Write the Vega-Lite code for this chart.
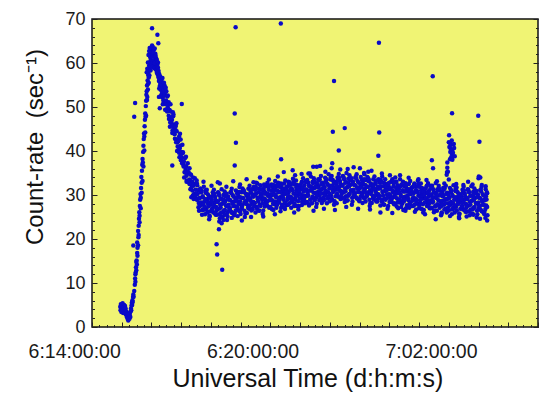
{
"$schema": "https://vega.github.io/schema/vega-lite/v6.json",
"width": 446, "height": 308,
"autosize": "none",
"padding": {"left": 92, "top": 19, "right": 2, "bottom": 69},
"background": "white",
"config": {
 "view": {"stroke": "#111111", "strokeWidth": 1.5, "fill": "#F0F474"},
 "axis": {"grid": false, "labelFont": "Liberation Sans", "titleFont": "Liberation Sans", "labelColor": "#1a1a1a", "titleColor": "#111111", "titleFontWeight": "normal", "tickColor": "#222222", "tickWidth": 1, "tickOpacity": 1, "labelOverlap": false, "labelFlush": false, "labelBound": false}
},
"resolve": {"axis": {"x": "independent", "y": "independent"}},
"data": {"values": [
{"t":1.55,"c":4.6},{"t":1.56,"c":3.8},{"t":1.57,"c":5.2},{"t":1.58,"c":4.1},{"t":1.59,"c":3.4},{"t":1.60,"c":4.9},{"t":1.61,"c":4.3},{"t":1.62,"c":3.6},{"t":1.63,"c":5.4},{"t":1.64,"c":4.0},{"t":1.65,"c":3.2},{"t":1.66,"c":4.7},{"t":1.67,"c":3.9},{"t":1.68,"c":5.0},{"t":1.69,"c":4.4},{"t":1.70,"c":3.3},{"t":1.71,"c":4.8},{"t":1.72,"c":3.7},{"t":1.73,"c":4.2},{"t":1.74,"c":2.9},{"t":1.75,"c":3.5},{"t":1.76,"c":2.6},{"t":1.77,"c":3.1},{"t":1.78,"c":2.2},{"t":1.79,"c":2.8},{"t":1.80,"c":1.8},{"t":1.81,"c":2.4},{"t":1.82,"c":1.5},{"t":1.83,"c":2.1},{"t":1.84,"c":3.0},{"t":1.85,"c":2.5},{"t":1.86,"c":1.9},{"t":1.87,"c":2.7},{"t":1.88,"c":3.3},{"t":1.89,"c":2.3},{"t":1.90,"c":3.6},{"t":1.91,"c":4.2},{"t":1.92,"c":3.8},{"t":1.93,"c":4.9},{"t":1.94,"c":5.5},{"t":1.95,"c":5.0},{"t":1.96,"c":6.1},{"t":1.97,"c":5.7},{"t":1.98,"c":6.8},{"t":1.99,"c":7.4},{"t":2.00,"c":6.9},
{"t":2.02,"c":8.2},{"t":2.04,"c":9.6},{"t":2.05,"c":11.0},{"t":2.06,"c":10.3},{"t":2.07,"c":12.4},{"t":2.08,"c":13.6},{"t":2.09,"c":12.9},{"t":2.10,"c":15.1},{"t":2.11,"c":14.2},{"t":2.12,"c":16.8},{"t":2.13,"c":18.0},{"t":2.12,"c":19.2},{"t":2.15,"c":18.6},{"t":2.16,"c":20.4},{"t":2.15,"c":21.8},{"t":2.17,"c":23.0},{"t":2.18,"c":24.6},{"t":2.19,"c":26.1},{"t":2.20,"c":25.3},{"t":2.21,"c":27.5},{"t":2.22,"c":28.9},{"t":2.23,"c":30.2},{"t":2.24,"c":29.4},{"t":2.25,"c":31.6},{"t":2.27,"c":32.8},{"t":2.26,"c":34.1},{"t":2.28,"c":35.5},{"t":2.29,"c":36.9},{"t":2.30,"c":38.2},{"t":2.31,"c":37.4},{"t":2.32,"c":39.8},{"t":2.33,"c":41.2},{"t":2.34,"c":42.7},{"t":2.35,"c":44.0},{"t":2.36,"c":43.3},{"t":2.37,"c":45.6},{"t":2.38,"c":47.1},{"t":2.39,"c":48.5},{"t":2.40,"c":47.8},{"t":2.41,"c":50.2},{"t":2.42,"c":51.4},{"t":2.43,"c":52.8},{"t":2.44,"c":53.6},{"t":2.45,"c":54.9},{"t":2.46,"c":52.3},{"t":2.47,"c":56.0},{"t":2.48,"c":55.2},{"t":2.49,"c":57.3},{"t":2.50,"c":58.1},{"t":2.51,"c":56.7},{"t":2.52,"c":59.4},{"t":2.53,"c":58.6},{"t":2.54,"c":60.2},{"t":2.55,"c":59.0},{"t":2.56,"c":61.3},
{"t":2.06,"c":12.0},{"t":2.09,"c":14.8},{"t":2.13,"c":16.2},{"t":2.17,"c":20.9},{"t":2.20,"c":23.8},{"t":2.24,"c":27.0},{"t":2.27,"c":30.5},{"t":2.30,"c":33.2},{"t":2.33,"c":36.5},{"t":2.36,"c":40.1},{"t":2.39,"c":44.2},{"t":2.42,"c":48.0},{"t":2.45,"c":51.6},{"t":2.48,"c":54.0},{"t":2.51,"c":55.5},
{"t":1.99,"c":18.5},{"t":2.05,"c":50.9},{"t":2.02,"c":47.8},
{"t":2.56,"c":62.0},{"t":2.58,"c":60.8},{"t":2.59,"c":63.1},{"t":2.60,"c":61.5},{"t":2.61,"c":59.7},{"t":2.62,"c":62.6},{"t":2.63,"c":60.3},{"t":2.64,"c":63.7},{"t":2.65,"c":61.9},{"t":2.66,"c":59.2},{"t":2.67,"c":62.9},{"t":2.68,"c":60.6},{"t":2.69,"c":58.8},{"t":2.70,"c":61.4},{"t":2.71,"c":63.3},{"t":2.72,"c":59.9},{"t":2.73,"c":62.1},{"t":2.74,"c":60.2},{"t":2.75,"c":58.5},{"t":2.76,"c":61.0},{"t":2.77,"c":59.3},{"t":2.78,"c":60.7},{"t":2.79,"c":58.1},{"t":2.80,"c":59.6},{"t":2.81,"c":57.4},{"t":2.82,"c":58.9},{"t":2.83,"c":56.8},{"t":2.84,"c":58.2},{"t":2.85,"c":55.9},{"t":2.86,"c":57.5},{"t":2.87,"c":56.3},{"t":2.88,"c":54.8},{"t":2.89,"c":57.0},{"t":2.90,"c":55.4},{"t":2.91,"c":53.9},{"t":2.92,"c":56.1},{"t":2.93,"c":54.5},{"t":2.94,"c":52.9},{"t":2.95,"c":55.0},{"t":2.96,"c":53.4},{"t":2.97,"c":56.6},{"t":2.98,"c":52.1},{"t":2.99,"c":54.2},{"t":3.00,"c":51.5},{"t":3.01,"c":53.8},{"t":3.02,"c":50.9},{"t":3.03,"c":52.6},{"t":3.04,"c":54.9},{"t":3.05,"c":51.2},
{"t":2.44,"c":57.9},{"t":2.46,"c":58.7},{"t":2.48,"c":60.1},{"t":2.50,"c":61.8},{"t":2.52,"c":62.7},{"t":2.54,"c":63.4},{"t":2.53,"c":57.2},{"t":2.57,"c":58.3},{"t":2.62,"c":64.0},{"t":2.66,"c":62.4},{"t":2.70,"c":60.0},{"t":2.74,"c":61.6},{"t":2.78,"c":57.8},{"t":2.82,"c":60.1},{"t":2.86,"c":54.2},{"t":2.90,"c":52.4},{"t":2.94,"c":55.8},{"t":2.98,"c":50.6},
{"t":2.62,"c":67.9},{"t":2.80,"c":66.4},{"t":2.83,"c":64.5},{"t":2.88,"c":49.7},{"t":2.85,"c":52.3},
{"t":3.05,"c":53.2},{"t":3.07,"c":50.8},{"t":3.09,"c":51.5},{"t":3.11,"c":49.2},{"t":3.13,"c":52.4},{"t":3.15,"c":49.8},{"t":3.17,"c":50.5},{"t":3.19,"c":47.3},{"t":3.21,"c":49.3},{"t":3.23,"c":47.1},{"t":3.25,"c":49.0},{"t":3.27,"c":46.5},{"t":3.29,"c":47.1},{"t":3.31,"c":44.7},{"t":3.33,"c":47.9},{"t":3.35,"c":45.3},{"t":3.37,"c":46.0},{"t":3.39,"c":42.8},{"t":3.41,"c":44.8},{"t":3.43,"c":42.6},{"t":3.45,"c":44.5},{"t":3.47,"c":42.0},{"t":3.49,"c":42.6},{"t":3.51,"c":40.2},{"t":3.53,"c":43.3},{"t":3.55,"c":40.6},{"t":3.57,"c":41.2},{"t":3.59,"c":37.9},{"t":3.61,"c":39.8},{"t":3.63,"c":37.6},{"t":3.65,"c":39.5},{"t":3.67,"c":37.0},{"t":3.69,"c":37.6},{"t":3.71,"c":35.2},{"t":3.73,"c":38.4},{"t":3.75,"c":35.8},{"t":3.77,"c":36.5},{"t":3.79,"c":33.3},{"t":3.81,"c":35.3},{"t":3.83,"c":33.2},{"t":3.85,"c":35.2},{"t":3.87,"c":32.8},{"t":3.89,"c":33.5},{"t":3.91,"c":31.3},{"t":3.93,"c":34.6},{"t":3.95,"c":32.2},{"t":3.97,"c":33.0},{"t":3.99,"c":29.9},{"t":4.01,"c":32.1},{"t":4.03,"c":30.2},{"t":4.05,"c":32.5},{"t":4.07,"c":30.3},{"t":4.09,"c":31.2},{"t":4.11,"c":29.1},{"t":4.13,"c":32.6},{"t":4.15,"c":30.2},{"t":4.17,"c":31.1},{"t":4.19,"c":28.2},
{"t":3.06,"c":49.4},{"t":3.10,"c":53.6},{"t":3.14,"c":49.7},{"t":3.18,"c":51.1},{"t":3.22,"c":45.5},{"t":3.26,"c":47.7},{"t":3.30,"c":44.1},{"t":3.34,"c":48.3},{"t":3.38,"c":44.4},{"t":3.42,"c":45.7},{"t":3.46,"c":40.0},{"t":3.50,"c":42.2},{"t":3.54,"c":38.6},{"t":3.58,"c":42.6},{"t":3.62,"c":38.5},{"t":3.66,"c":39.7},{"t":3.70,"c":34.0},{"t":3.74,"c":36.4},{"t":3.78,"c":33.0},{"t":3.82,"c":37.2},{"t":3.86,"c":33.3},{"t":3.90,"c":34.7},{"t":3.94,"c":29.5},{"t":3.98,"c":32.2},{"t":4.02,"c":29.1},{"t":4.06,"c":33.8},{"t":4.10,"c":30.3},{"t":4.14,"c":32.2},{"t":4.18,"c":27.2},
{"t":3.08,"c":50.6},{"t":3.13,"c":49.0},{"t":3.18,"c":48.0},{"t":3.23,"c":46.5},{"t":3.28,"c":45.8},{"t":3.33,"c":44.2},{"t":3.38,"c":43.8},{"t":3.43,"c":42.0},{"t":3.48,"c":41.0},{"t":3.53,"c":39.6},{"t":3.58,"c":38.9},{"t":3.63,"c":37.2},{"t":3.68,"c":36.5},{"t":3.73,"c":35.1},{"t":3.78,"c":34.4},{"t":3.83,"c":33.0},{"t":3.88,"c":32.5},{"t":3.93,"c":31.4},{"t":3.98,"c":31.0},{"t":4.03,"c":30.0},{"t":4.08,"c":29.6},{"t":4.13,"c":28.9},
{"t":3.02,"c":55.5},{"t":3.08,"c":54.4},{"t":3.15,"c":52.6},{"t":3.24,"c":50.6},{"t":3.32,"c":48.8},{"t":3.44,"c":46.3},{"t":3.56,"c":43.9},{"t":3.64,"c":41.4},{"t":3.76,"c":38.7},{"t":3.88,"c":36.1},{"t":4.00,"c":34.0},{"t":4.12,"c":33.3},
{"t":3.62,"c":50.7},{"t":3.30,"c":36.7},
{"t":4.20,"c":26.4},{"t":4.22,"c":29.3},{"t":4.24,"c":31.5},{"t":4.26,"c":27.7},{"t":4.28,"c":30.7},{"t":4.30,"c":25.5},{"t":4.32,"c":29.7},{"t":4.34,"c":26.6},{"t":4.36,"c":31.9},{"t":4.38,"c":28.5},{"t":4.40,"c":25.6},{"t":4.42,"c":30.5},{"t":4.44,"c":26.8},{"t":4.46,"c":31.2},{"t":4.48,"c":29.0},{"t":4.50,"c":30.1},{"t":4.52,"c":27.7},{"t":4.54,"c":24.5},{"t":4.56,"c":25.1},{"t":4.58,"c":29.6},{"t":4.60,"c":27.8},{"t":4.62,"c":28.9},{"t":4.64,"c":26.9},{"t":4.66,"c":30.6},{"t":4.68,"c":26.0},{"t":4.70,"c":31.2},{"t":4.72,"c":28.2},{"t":4.74,"c":29.6},{"t":4.76,"c":25.5},{"t":4.78,"c":27.2},{"t":4.80,"c":25.5},{"t":4.82,"c":28.4},{"t":4.84,"c":30.6},{"t":4.86,"c":26.9},{"t":4.88,"c":29.9},{"t":4.90,"c":24.7},{"t":4.92,"c":29.1},{"t":4.94,"c":26.0},{"t":4.96,"c":31.3},{"t":4.98,"c":28.0},{"t":5.00,"c":25.1},{"t":5.02,"c":30.0},{"t":5.04,"c":26.4},{"t":5.06,"c":30.8},{"t":5.08,"c":28.6},{"t":5.10,"c":29.9},{"t":5.12,"c":27.5},{"t":5.14,"c":24.3},{"t":5.16,"c":25.1},{"t":5.18,"c":29.6},{"t":5.20,"c":27.8},{"t":5.22,"c":28.9},{"t":5.24,"c":26.9},{"t":5.26,"c":30.6},{"t":5.28,"c":26.2},{"t":5.30,"c":31.4},{"t":5.32,"c":28.4},{"t":5.34,"c":29.9},{"t":5.36,"c":25.8},{"t":5.38,"c":27.5},{"t":5.40,"c":25.9},{"t":5.42,"c":28.8},{"t":5.44,"c":31.0},{"t":5.46,"c":27.4},{"t":5.48,"c":30.4},{"t":5.50,"c":25.2},{"t":5.52,"c":29.6},{"t":5.54,"c":26.5},{"t":5.56,"c":31.8},{"t":5.58,"c":28.6},{"t":5.60,"c":25.7},{"t":5.62,"c":30.6},{"t":5.64,"c":27.1},{"t":5.66,"c":31.5},{"t":5.68,"c":29.3},{"t":5.70,"c":30.6},{"t":5.72,"c":28.2},{"t":5.74,"c":25.0},{"t":5.76,"c":25.8},{"t":5.78,"c":30.3},{"t":5.80,"c":28.5},{"t":5.82,"c":29.7},{"t":5.84,"c":27.7},{"t":5.86,"c":31.4},{"t":5.88,"c":26.9},{"t":5.90,"c":32.1},{"t":5.92,"c":29.1},{"t":5.94,"c":30.6},{"t":5.96,"c":26.5},{"t":5.98,"c":28.2},
{"t":6.00,"c":26.7},{"t":6.02,"c":29.6},{"t":6.04,"c":31.8},{"t":6.06,"c":28.2},{"t":6.08,"c":31.2},{"t":6.10,"c":26.0},{"t":6.12,"c":30.4},{"t":6.14,"c":27.3},{"t":6.16,"c":32.6},{"t":6.18,"c":29.4},{"t":6.20,"c":26.5},{"t":6.22,"c":31.4},{"t":6.24,"c":27.8},{"t":6.26,"c":32.2},{"t":6.28,"c":30.0},{"t":6.30,"c":31.3},{"t":6.32,"c":28.9},{"t":6.34,"c":25.7},{"t":6.36,"c":26.5},{"t":6.38,"c":31.0},{"t":6.40,"c":29.2},{"t":6.42,"c":30.3},{"t":6.44,"c":28.3},{"t":6.46,"c":32.0},{"t":6.48,"c":27.6},{"t":6.50,"c":32.8},{"t":6.52,"c":29.8},{"t":6.54,"c":31.2},{"t":6.56,"c":27.1},{"t":6.58,"c":28.8},{"t":6.60,"c":27.3},{"t":6.62,"c":30.2},{"t":6.64,"c":32.4},{"t":6.66,"c":28.8},{"t":6.68,"c":31.8},{"t":6.70,"c":26.6},{"t":6.72,"c":31.0},{"t":6.74,"c":27.9},{"t":6.76,"c":33.2},{"t":6.78,"c":30.0},{"t":6.80,"c":27.1},{"t":6.82,"c":32.0},{"t":6.84,"c":28.4},{"t":6.86,"c":32.8},{"t":6.88,"c":30.6},{"t":6.90,"c":31.9},{"t":6.92,"c":29.5},{"t":6.94,"c":26.3},{"t":6.96,"c":27.1},{"t":6.98,"c":31.6},{"t":7.00,"c":29.8},{"t":7.02,"c":30.9},{"t":7.04,"c":28.9},{"t":7.06,"c":32.6},{"t":7.08,"c":28.1},{"t":7.10,"c":33.3},{"t":7.12,"c":30.3},{"t":7.14,"c":31.8},{"t":7.16,"c":27.7},{"t":7.18,"c":29.4},{"t":7.20,"c":27.8},{"t":7.22,"c":30.7},{"t":7.24,"c":32.9},{"t":7.26,"c":29.3},{"t":7.28,"c":32.3},{"t":7.30,"c":27.1},{"t":7.32,"c":31.5},{"t":7.34,"c":28.4},{"t":7.36,"c":33.7},{"t":7.38,"c":30.4},{"t":7.40,"c":27.5},{"t":7.42,"c":32.4},{"t":7.44,"c":28.9},{"t":7.46,"c":33.3},{"t":7.48,"c":31.1},{"t":7.50,"c":32.3},{"t":7.52,"c":29.9},{"t":7.54,"c":26.7},{"t":7.56,"c":27.5},{"t":7.58,"c":32.0},{"t":7.60,"c":30.2},{"t":7.62,"c":31.3},{"t":7.64,"c":29.3},{"t":7.66,"c":33.0},{"t":7.68,"c":28.6},{"t":7.70,"c":33.8},{"t":7.72,"c":30.8},{"t":7.74,"c":32.2},{"t":7.76,"c":28.1},{"t":7.78,"c":29.8},
{"t":7.80,"c":28.3},{"t":7.82,"c":31.2},{"t":7.84,"c":33.4},{"t":7.86,"c":29.8},{"t":7.88,"c":32.8},{"t":7.90,"c":27.6},{"t":7.92,"c":32.0},{"t":7.94,"c":28.9},{"t":7.96,"c":34.2},{"t":7.98,"c":31.0},{"t":8.00,"c":28.1},{"t":8.02,"c":33.0},{"t":8.04,"c":29.4},{"t":8.06,"c":33.8},{"t":8.08,"c":31.6},{"t":8.10,"c":32.9},{"t":8.12,"c":30.5},{"t":8.14,"c":27.3},{"t":8.16,"c":28.0},{"t":8.18,"c":32.5},{"t":8.20,"c":30.7},{"t":8.22,"c":31.9},{"t":8.24,"c":29.9},{"t":8.26,"c":33.6},{"t":8.28,"c":29.1},{"t":8.30,"c":34.3},{"t":8.32,"c":31.3},{"t":8.34,"c":32.8},{"t":8.36,"c":28.7},{"t":8.38,"c":30.4},{"t":8.40,"c":28.8},{"t":8.42,"c":31.7},{"t":8.44,"c":33.9},{"t":8.46,"c":30.3},{"t":8.48,"c":33.3},{"t":8.50,"c":28.1},{"t":8.52,"c":32.5},{"t":8.54,"c":29.4},{"t":8.56,"c":34.7},{"t":8.58,"c":31.5},{"t":8.60,"c":28.6},{"t":8.62,"c":33.5},{"t":8.64,"c":29.9},{"t":8.66,"c":34.3},{"t":8.68,"c":32.1},{"t":8.70,"c":33.4},{"t":8.72,"c":31.0},{"t":8.74,"c":27.8},{"t":8.76,"c":28.5},{"t":8.78,"c":33.0},{"t":8.80,"c":31.2},{"t":8.82,"c":32.3},{"t":8.84,"c":30.3},{"t":8.86,"c":34.0},{"t":8.88,"c":29.6},{"t":8.90,"c":34.8},{"t":8.92,"c":31.8},{"t":8.94,"c":33.2},{"t":8.96,"c":29.1},{"t":8.98,"c":30.8},
{"t":9.00,"c":29.2},{"t":9.02,"c":32.1},{"t":9.04,"c":34.3},{"t":9.06,"c":30.6},{"t":9.08,"c":33.6},{"t":9.10,"c":28.4},{"t":9.12,"c":32.8},{"t":9.14,"c":29.7},{"t":9.16,"c":35.0},{"t":9.18,"c":31.7},{"t":9.20,"c":28.8},{"t":9.22,"c":33.7},{"t":9.24,"c":30.1},{"t":9.26,"c":34.5},{"t":9.28,"c":32.3},{"t":9.30,"c":33.4},{"t":9.32,"c":31.0},{"t":9.34,"c":27.8},{"t":9.36,"c":28.5},{"t":9.38,"c":33.0},{"t":9.40,"c":31.2},{"t":9.42,"c":32.3},{"t":9.44,"c":30.3},{"t":9.46,"c":34.0},{"t":9.48,"c":29.5},{"t":9.50,"c":34.7},{"t":9.52,"c":31.7},{"t":9.54,"c":33.1},{"t":9.56,"c":29.0},{"t":9.58,"c":30.7},{"t":9.60,"c":29.0},{"t":9.62,"c":31.9},{"t":9.64,"c":34.1},{"t":9.66,"c":30.4},{"t":9.68,"c":33.4},{"t":9.70,"c":28.2},{"t":9.72,"c":32.5},{"t":9.74,"c":29.4},{"t":9.76,"c":34.7},{"t":9.78,"c":31.4},{"t":9.80,"c":28.5},{"t":9.82,"c":33.4},{"t":9.84,"c":29.7},{"t":9.86,"c":34.1},{"t":9.88,"c":31.9},{"t":9.90,"c":33.1},{"t":9.92,"c":30.7},{"t":9.94,"c":27.5},{"t":9.96,"c":28.1},{"t":9.98,"c":32.6},{"t":10.00,"c":30.8},
{"t":10.02,"c":31.9},{"t":10.04,"c":29.9},{"t":10.06,"c":33.6},{"t":10.08,"c":29.0},{"t":10.10,"c":34.2},{"t":10.12,"c":31.2},{"t":10.14,"c":32.6},{"t":10.16,"c":28.5},{"t":10.18,"c":30.2},{"t":10.20,"c":28.5},{"t":10.22,"c":31.4},{"t":10.24,"c":33.6},{"t":10.26,"c":29.8},{"t":10.28,"c":32.8},{"t":10.30,"c":27.6},{"t":10.32,"c":32.0},{"t":10.34,"c":28.9},{"t":10.36,"c":34.2},{"t":10.38,"c":30.8},{"t":10.40,"c":27.9},{"t":10.42,"c":32.8},{"t":10.44,"c":29.2},{"t":10.46,"c":33.6},{"t":10.48,"c":31.4},{"t":10.50,"c":32.5},{"t":10.52,"c":30.1},{"t":10.54,"c":26.9},{"t":10.56,"c":27.5},{"t":10.58,"c":32.0},{"t":10.60,"c":30.2},{"t":10.62,"c":31.3},{"t":10.64,"c":29.3},{"t":10.66,"c":33.0},{"t":10.68,"c":28.4},{"t":10.70,"c":33.6},{"t":10.72,"c":30.6},{"t":10.74,"c":32.0},{"t":10.76,"c":27.9},{"t":10.78,"c":29.6},{"t":10.80,"c":27.9},{"t":10.82,"c":30.8},{"t":10.84,"c":33.0},{"t":10.86,"c":29.2},{"t":10.88,"c":32.2},{"t":10.90,"c":27.0},{"t":10.92,"c":31.4},{"t":10.94,"c":28.3},{"t":10.96,"c":33.6},{"t":10.98,"c":30.2},{"t":11.00,"c":27.3},{"t":11.02,"c":32.2},
{"t":11.04,"c":28.6},{"t":11.06,"c":33.0},{"t":11.08,"c":30.8},{"t":11.10,"c":32.0},{"t":11.12,"c":29.6},{"t":11.14,"c":26.4},{"t":11.16,"c":27.0},{"t":11.18,"c":31.5},{"t":11.20,"c":29.7},{"t":11.22,"c":30.8},{"t":11.24,"c":28.8},{"t":11.26,"c":32.5},{"t":11.28,"c":28.0},{"t":11.30,"c":33.2},{"t":11.32,"c":30.2},{"t":11.34,"c":31.6},{"t":11.36,"c":27.5},{"t":11.38,"c":29.2},{"t":11.40,"c":27.5},{"t":11.42,"c":30.4},{"t":11.44,"c":32.6},{"t":11.46,"c":28.9},{"t":11.48,"c":31.9},{"t":11.50,"c":26.7},{"t":11.52,"c":31.1},{"t":11.54,"c":28.0},{"t":11.56,"c":33.3},{"t":11.58,"c":29.9},{"t":11.60,"c":27.0},{"t":11.62,"c":31.9},{"t":11.64,"c":28.2},{"t":11.66,"c":32.6},{"t":11.68,"c":30.4},{"t":11.70,"c":31.6},{"t":11.72,"c":29.2},{"t":11.74,"c":26.0},{"t":11.76,"c":26.6},{"t":11.78,"c":31.1},{"t":11.80,"c":29.3},{"t":11.82,"c":30.4},{"t":11.84,"c":28.4},{"t":11.86,"c":32.1},{"t":11.88,"c":27.5},{"t":11.90,"c":32.7},{"t":11.92,"c":29.7},{"t":11.94,"c":31.1},{"t":11.96,"c":27.0},{"t":11.98,"c":28.7},
{"t":12.00,"c":27.0},{"t":12.02,"c":29.9},{"t":12.04,"c":32.1},{"t":12.06,"c":28.3},{"t":12.08,"c":31.3},{"t":12.10,"c":26.1},{"t":12.12,"c":30.5},{"t":12.14,"c":27.4},{"t":12.16,"c":32.7},{"t":12.18,"c":29.3},{"t":12.20,"c":26.4},{"t":12.22,"c":31.3},{"t":12.24,"c":27.7},{"t":12.26,"c":32.1},{"t":12.28,"c":29.9},{"t":12.30,"c":31.0},{"t":12.32,"c":28.6},{"t":12.34,"c":25.4},{"t":12.36,"c":26.0},{"t":12.38,"c":30.5},{"t":12.40,"c":28.7},{"t":12.42,"c":29.8},{"t":12.44,"c":27.8},{"t":12.46,"c":31.5},{"t":12.48,"c":26.9},{"t":12.50,"c":32.1},{"t":12.52,"c":29.1},{"t":12.54,"c":30.5},{"t":12.56,"c":26.4},{"t":12.58,"c":28.1},{"t":12.60,"c":26.5},{"t":12.62,"c":29.4},{"t":12.64,"c":31.6},{"t":12.66,"c":27.8},{"t":12.68,"c":30.8},{"t":12.70,"c":25.6},{"t":12.72,"c":30.0},{"t":12.74,"c":26.9},{"t":12.76,"c":32.2},{"t":12.78,"c":28.9},{"t":12.80,"c":26.0},{"t":12.82,"c":30.9},{"t":12.84,"c":27.3},{"t":12.86,"c":31.7},{"t":12.88,"c":29.5},{"t":12.90,"c":30.6},{"t":12.92,"c":28.2},{"t":12.94,"c":25.0},{"t":12.96,"c":25.7},{"t":12.98,"c":30.2},{"t":13.00,"c":28.4},
{"t":13.02,"c":29.5},{"t":13.04,"c":27.5},{"t":13.06,"c":31.2},{"t":13.08,"c":26.7},{"t":13.10,"c":31.9},{"t":13.12,"c":28.9},{"t":13.14,"c":30.3},{"t":13.16,"c":26.2},{"t":13.18,"c":27.9},{"t":13.20,"c":26.2},{"t":13.22,"c":29.1},{"t":13.24,"c":31.3},{"t":13.26,"c":27.6},{"t":13.28,"c":30.6},{"t":13.30,"c":25.4},{"t":13.32,"c":29.8},{"t":13.34,"c":26.7},{"t":13.36,"c":32.0},{"t":13.38,"c":28.7},{"t":13.40,"c":25.8},{"t":13.42,"c":30.7},{"t":13.44,"c":27.1},{"t":13.46,"c":31.5},{"t":13.48,"c":29.3},{"t":13.50,"c":30.5},{"t":13.52,"c":28.1},{"t":13.54,"c":24.9},{"t":13.56,"c":25.6},{"t":13.58,"c":30.1},{"t":13.60,"c":28.3},{"t":13.62,"c":29.4},{"t":13.64,"c":27.4},{"t":13.66,"c":31.1},{"t":13.68,"c":26.6},{"t":13.70,"c":31.8},{"t":13.72,"c":28.8},{"t":13.74,"c":30.2},{"t":13.76,"c":26.1},{"t":13.78,"c":27.8},{"t":13.80,"c":26.2},{"t":13.82,"c":29.1},{"t":13.84,"c":31.3},{"t":13.86,"c":27.6},{"t":13.88,"c":30.6},{"t":13.90,"c":25.4},
{"t":4.21,"c":29.2},{"t":4.23,"c":27.5},{"t":4.25,"c":30.6},{"t":4.27,"c":28.3},{"t":4.29,"c":31.0},{"t":4.31,"c":26.6},{"t":4.33,"c":29.5},{"t":4.35,"c":27.8},{"t":4.37,"c":26.9},{"t":4.39,"c":27.3},{"t":4.41,"c":29.1},{"t":4.43,"c":31.0},{"t":4.45,"c":30.5},{"t":4.47,"c":26.0},{"t":4.49,"c":28.2},{"t":4.51,"c":27.4},{"t":4.53,"c":29.5},{"t":4.55,"c":25.3},{"t":4.57,"c":28.3},{"t":4.59,"c":26.3},{"t":4.61,"c":29.2},{"t":4.63,"c":28.5},{"t":4.65,"c":26.8},{"t":4.67,"c":29.9},{"t":4.69,"c":27.6},{"t":4.71,"c":30.3},{"t":4.73,"c":25.9},{"t":4.75,"c":29.0},{"t":4.77,"c":27.3},{"t":4.79,"c":26.4},{"t":4.81,"c":26.8},{"t":4.83,"c":28.6},{"t":4.85,"c":30.5},{"t":4.87,"c":30.1},{"t":4.89,"c":25.6},{"t":4.91,"c":27.8},{"t":4.93,"c":27.1},{"t":4.95,"c":29.2},{"t":4.97,"c":25.0},{"t":4.99,"c":28.1},{"t":5.01,"c":26.1},{"t":5.03,"c":29.0},{"t":5.05,"c":28.3},{"t":5.07,"c":26.6},{"t":5.09,"c":29.7},{"t":5.11,"c":27.6},{"t":5.13,"c":30.3},{"t":5.15,"c":25.9},{"t":5.17,"c":29.1},{"t":5.19,"c":27.4},{"t":5.21,"c":26.5},{"t":5.23,"c":27.0},{"t":5.25,"c":28.8},{"t":5.27,"c":30.7},{"t":5.29,"c":30.4},{"t":5.31,"c":25.9},{"t":5.33,"c":28.1},{"t":5.35,"c":27.5},{"t":5.37,"c":29.6},{"t":5.39,"c":25.4},{"t":5.41,"c":28.5},{"t":5.43,"c":26.5},{"t":5.45,"c":29.4},{"t":5.47,"c":28.8},{"t":5.49,"c":27.1},{"t":5.51,"c":30.2},{"t":5.53,"c":28.0},{"t":5.55,"c":30.7},{"t":5.57,"c":26.3},{"t":5.59,"c":29.5},{"t":5.61,"c":27.8},{"t":5.63,"c":26.9},{"t":5.65,"c":27.5},{"t":5.67,"c":29.3},{"t":5.69,"c":31.2},{"t":5.71,"c":30.9},{"t":5.73,"c":26.4},{"t":5.75,"c":28.6},{"t":5.77,"c":28.0},{"t":5.79,"c":30.1},{"t":5.81,"c":25.9},{"t":5.83,"c":29.1},{"t":5.85,"c":27.1},{"t":5.87,"c":30.0},{"t":5.89,"c":29.3},{"t":5.91,"c":27.6},{"t":5.93,"c":30.7},{"t":5.95,"c":28.6},{"t":5.97,"c":31.3},{"t":5.99,"c":26.9},
{"t":6.01,"c":30.1},{"t":6.03,"c":28.4},{"t":6.05,"c":27.5},{"t":6.07,"c":28.1},{"t":6.09,"c":29.9},{"t":6.11,"c":31.8},{"t":6.13,"c":31.4},{"t":6.15,"c":26.9},{"t":6.17,"c":29.1},{"t":6.19,"c":28.5},{"t":6.21,"c":30.6},{"t":6.23,"c":26.4},{"t":6.25,"c":29.5},{"t":6.27,"c":27.5},{"t":6.29,"c":30.4},{"t":6.31,"c":29.8},{"t":6.33,"c":28.1},{"t":6.35,"c":31.2},{"t":6.37,"c":29.1},{"t":6.39,"c":31.8},{"t":6.41,"c":27.4},{"t":6.43,"c":30.5},{"t":6.45,"c":28.8},{"t":6.47,"c":27.9},{"t":6.49,"c":28.5},{"t":6.51,"c":30.3},{"t":6.53,"c":32.2},{"t":6.55,"c":31.8},{"t":6.57,"c":27.3},{"t":6.59,"c":29.5},{"t":6.61,"c":28.9},{"t":6.63,"c":31.0},{"t":6.65,"c":26.8},{"t":6.67,"c":30.0},{"t":6.69,"c":28.0},{"t":6.71,"c":30.9},{"t":6.73,"c":30.2},{"t":6.75,"c":28.5},{"t":6.77,"c":31.6},{"t":6.79,"c":29.5},{"t":6.81,"c":32.2},{"t":6.83,"c":27.8},{"t":6.85,"c":30.9},{"t":6.87,"c":29.2},{"t":6.89,"c":28.3},{"t":6.91,"c":28.9},{"t":6.93,"c":30.7},{"t":6.95,"c":32.6},{"t":6.97,"c":32.3},{"t":6.99,"c":27.8},{"t":7.01,"c":30.0},{"t":7.03,"c":29.3},{"t":7.05,"c":31.4},{"t":7.07,"c":27.2},{"t":7.09,"c":30.3},{"t":7.11,"c":28.3},{"t":7.13,"c":31.2},{"t":7.15,"c":30.6},{"t":7.17,"c":28.9},{"t":7.19,"c":32.0},{"t":7.21,"c":29.8},{"t":7.23,"c":32.5},{"t":7.25,"c":28.1},{"t":7.27,"c":31.3},{"t":7.29,"c":29.6},{"t":7.31,"c":28.7},{"t":7.33,"c":29.2},{"t":7.35,"c":31.0},{"t":7.37,"c":32.9},{"t":7.39,"c":32.5},{"t":7.41,"c":28.0},{"t":7.43,"c":30.2},{"t":7.45,"c":29.6},{"t":7.47,"c":31.7},{"t":7.49,"c":27.5},{"t":7.51,"c":30.6},{"t":7.53,"c":28.6},{"t":7.55,"c":31.5},{"t":7.57,"c":30.9},{"t":7.59,"c":29.2},{"t":7.61,"c":32.3},{"t":7.63,"c":30.1},{"t":7.65,"c":32.8},{"t":7.67,"c":28.4},{"t":7.69,"c":31.6},{"t":7.71,"c":29.9},{"t":7.73,"c":29.0},{"t":7.75,"c":29.5},{"t":7.77,"c":31.3},{"t":7.79,"c":33.2},
{"t":7.81,"c":32.9},{"t":7.83,"c":28.4},{"t":7.85,"c":30.6},{"t":7.87,"c":30.0},{"t":7.89,"c":32.1},{"t":7.91,"c":27.9},{"t":7.93,"c":31.0},{"t":7.95,"c":29.0},{"t":7.97,"c":31.9},{"t":7.99,"c":31.3},{"t":8.01,"c":29.6},{"t":8.03,"c":32.7},{"t":8.05,"c":30.5},{"t":8.07,"c":33.2},{"t":8.09,"c":28.8},{"t":8.11,"c":32.0},{"t":8.13,"c":30.3},{"t":8.15,"c":29.4},{"t":8.17,"c":29.9},{"t":8.19,"c":31.7},{"t":8.21,"c":33.6},{"t":8.23,"c":33.3},{"t":8.25,"c":28.8},{"t":8.27,"c":31.0},{"t":8.29,"c":30.3},{"t":8.31,"c":32.4},{"t":8.33,"c":28.2},{"t":8.35,"c":31.4},{"t":8.37,"c":29.4},{"t":8.39,"c":32.3},{"t":8.41,"c":31.6},{"t":8.43,"c":29.9},{"t":8.45,"c":33.0},{"t":8.47,"c":30.9},{"t":8.49,"c":33.6},{"t":8.51,"c":29.2},{"t":8.53,"c":32.3},{"t":8.55,"c":30.6},{"t":8.57,"c":29.7},{"t":8.59,"c":30.3},{"t":8.61,"c":32.1},{"t":8.63,"c":34.0},{"t":8.65,"c":33.6},{"t":8.67,"c":29.1},{"t":8.69,"c":31.3},{"t":8.71,"c":30.7},{"t":8.73,"c":32.8},{"t":8.75,"c":28.6},{"t":8.77,"c":31.7},{"t":8.79,"c":29.7},{"t":8.81,"c":32.6},{"t":8.83,"c":31.9},{"t":8.85,"c":30.2},{"t":8.87,"c":33.3},{"t":8.89,"c":31.2},{"t":8.91,"c":33.9},{"t":8.93,"c":29.5},{"t":8.95,"c":32.6},{"t":8.97,"c":30.9},{"t":8.99,"c":30.0},
{"t":9.01,"c":30.5},{"t":9.03,"c":32.3},{"t":9.05,"c":34.2},{"t":9.07,"c":33.8},{"t":9.09,"c":29.3},{"t":9.11,"c":31.5},{"t":9.13,"c":30.8},{"t":9.15,"c":32.9},{"t":9.17,"c":28.7},{"t":9.19,"c":31.8},{"t":9.21,"c":29.8},{"t":9.23,"c":32.7},{"t":9.25,"c":32.0},{"t":9.27,"c":30.3},{"t":9.29,"c":33.4},{"t":9.31,"c":31.1},{"t":9.33,"c":33.8},{"t":9.35,"c":29.4},{"t":9.37,"c":32.5},{"t":9.39,"c":30.8},{"t":9.41,"c":29.9},{"t":9.43,"c":30.4},{"t":9.45,"c":32.2},{"t":9.47,"c":34.1},{"t":9.49,"c":33.7},{"t":9.51,"c":29.2},{"t":9.53,"c":31.4},{"t":9.55,"c":30.7},{"t":9.57,"c":32.8},{"t":9.59,"c":28.6},{"t":9.61,"c":31.6},{"t":9.63,"c":29.6},{"t":9.65,"c":32.5},{"t":9.67,"c":31.8},{"t":9.69,"c":30.1},{"t":9.71,"c":33.2},{"t":9.73,"c":30.9},{"t":9.75,"c":33.6},{"t":9.77,"c":29.2},{"t":9.79,"c":32.3},{"t":9.81,"c":30.6},{"t":9.83,"c":29.7},{"t":9.85,"c":30.1},{"t":9.87,"c":31.9},{"t":9.89,"c":33.8},{"t":9.91,"c":33.4},{"t":9.93,"c":28.9},{"t":9.95,"c":31.1},{"t":9.97,"c":30.3},{"t":9.99,"c":32.4},{"t":10.01,"c":28.2},
{"t":10.03,"c":31.3},{"t":10.05,"c":29.3},{"t":10.07,"c":32.2},{"t":10.09,"c":31.4},{"t":10.11,"c":29.7},{"t":10.13,"c":32.8},{"t":10.15,"c":30.6},{"t":10.17,"c":33.3},{"t":10.19,"c":28.9},{"t":10.21,"c":31.9},{"t":10.23,"c":30.2},{"t":10.25,"c":29.3},{"t":10.27,"c":29.7},{"t":10.29,"c":31.5},{"t":10.31,"c":33.4},{"t":10.33,"c":33.0},{"t":10.35,"c":28.5},{"t":10.37,"c":30.7},{"t":10.39,"c":29.9},{"t":10.41,"c":32.0},{"t":10.43,"c":27.8},{"t":10.45,"c":30.9},{"t":10.47,"c":28.9},{"t":10.49,"c":31.8},{"t":10.51,"c":31.0},{"t":10.53,"c":29.3},{"t":10.55,"c":32.4},{"t":10.57,"c":30.1},{"t":10.59,"c":32.8},{"t":10.61,"c":28.4},{"t":10.63,"c":31.5},{"t":10.65,"c":29.8},{"t":10.67,"c":28.9},{"t":10.69,"c":29.3},{"t":10.71,"c":31.1},{"t":10.73,"c":33.0},{"t":10.75,"c":32.6},{"t":10.77,"c":28.1},{"t":10.79,"c":30.3},{"t":10.81,"c":29.5},{"t":10.83,"c":31.6},{"t":10.85,"c":27.4},{"t":10.87,"c":30.4},{"t":10.89,"c":28.4},{"t":10.91,"c":31.3},{"t":10.93,"c":30.6},{"t":10.95,"c":28.9},{"t":10.97,"c":32.0},{"t":10.99,"c":29.7},{"t":11.01,"c":32.4},{"t":11.03,"c":28.0},
{"t":11.05,"c":31.1},{"t":11.07,"c":29.4},{"t":11.09,"c":28.5},{"t":11.11,"c":29.0},{"t":11.13,"c":30.8},{"t":11.15,"c":32.7},{"t":11.17,"c":32.2},{"t":11.19,"c":27.7},{"t":11.21,"c":29.9},{"t":11.23,"c":29.2},{"t":11.25,"c":31.3},{"t":11.27,"c":27.1},{"t":11.29,"c":30.2},{"t":11.31,"c":28.2},{"t":11.33,"c":31.1},{"t":11.35,"c":30.4},{"t":11.37,"c":28.7},{"t":11.39,"c":31.8},{"t":11.41,"c":29.5},{"t":11.43,"c":32.2},{"t":11.45,"c":27.8},{"t":11.47,"c":30.9},{"t":11.49,"c":29.2},{"t":11.51,"c":28.3},{"t":11.53,"c":28.8},{"t":11.55,"c":30.6},{"t":11.57,"c":32.5},{"t":11.59,"c":32.0},{"t":11.61,"c":27.5},{"t":11.63,"c":29.7},{"t":11.65,"c":28.9},{"t":11.67,"c":31.0},{"t":11.69,"c":26.8},{"t":11.71,"c":29.9},{"t":11.73,"c":27.9},{"t":11.75,"c":30.8},{"t":11.77,"c":30.0},{"t":11.79,"c":28.3},{"t":11.81,"c":31.4},{"t":11.83,"c":29.2},{"t":11.85,"c":31.9},{"t":11.87,"c":27.5},{"t":11.89,"c":30.5},{"t":11.91,"c":28.8},{"t":11.93,"c":27.9},{"t":11.95,"c":28.4},{"t":11.97,"c":30.2},{"t":11.99,"c":32.1},
{"t":12.01,"c":31.6},{"t":12.03,"c":27.1},{"t":12.05,"c":29.3},{"t":12.07,"c":28.5},{"t":12.09,"c":30.6},{"t":12.11,"c":26.4},{"t":12.13,"c":29.5},{"t":12.15,"c":27.5},{"t":12.17,"c":30.4},{"t":12.19,"c":29.6},{"t":12.21,"c":27.9},{"t":12.23,"c":31.0},{"t":12.25,"c":28.8},{"t":12.27,"c":31.5},{"t":12.29,"c":27.1},{"t":12.31,"c":30.1},{"t":12.33,"c":28.4},{"t":12.35,"c":27.5},{"t":12.37,"c":27.9},{"t":12.39,"c":29.7},{"t":12.41,"c":31.6},{"t":12.43,"c":31.2},{"t":12.45,"c":26.7},{"t":12.47,"c":28.9},{"t":12.49,"c":28.1},{"t":12.51,"c":30.2},{"t":12.53,"c":26.0},{"t":12.55,"c":29.1},{"t":12.57,"c":27.1},{"t":12.59,"c":30.0},{"t":12.61,"c":29.3},{"t":12.63,"c":27.6},{"t":12.65,"c":30.7},{"t":12.67,"c":28.4},{"t":12.69,"c":31.1},{"t":12.71,"c":26.7},{"t":12.73,"c":29.8},{"t":12.75,"c":28.1},{"t":12.77,"c":27.2},{"t":12.79,"c":27.7},{"t":12.81,"c":29.5},{"t":12.83,"c":31.4},{"t":12.85,"c":31.0},{"t":12.87,"c":26.5},{"t":12.89,"c":28.7},{"t":12.91,"c":27.9},{"t":12.93,"c":30.0},{"t":12.95,"c":25.8},{"t":12.97,"c":28.9},{"t":12.99,"c":26.9},{"t":13.01,"c":29.8},
{"t":13.03,"c":29.1},{"t":13.05,"c":27.4},{"t":13.07,"c":30.5},{"t":13.09,"c":28.3},{"t":13.11,"c":31.0},{"t":13.13,"c":26.6},{"t":13.15,"c":29.7},{"t":13.17,"c":28.0},{"t":13.19,"c":27.1},{"t":13.21,"c":27.5},{"t":13.23,"c":29.3},{"t":13.25,"c":31.2},{"t":13.27,"c":30.8},{"t":13.29,"c":26.3},{"t":13.31,"c":28.5},{"t":13.33,"c":27.8},{"t":13.35,"c":29.9},{"t":13.37,"c":25.7},{"t":13.39,"c":28.8},{"t":13.41,"c":26.8},{"t":13.43,"c":29.7},{"t":13.45,"c":29.0},{"t":13.47,"c":27.3},{"t":13.49,"c":30.4},{"t":13.51,"c":28.2},{"t":13.53,"c":30.9},{"t":13.55,"c":26.5},{"t":13.57,"c":29.6},{"t":13.59,"c":27.9},{"t":13.61,"c":27.0},{"t":13.63,"c":27.5},{"t":13.65,"c":29.3},{"t":13.67,"c":31.2},{"t":13.69,"c":30.8},{"t":13.71,"c":26.3},{"t":13.73,"c":28.5},{"t":13.75,"c":27.8},{"t":13.77,"c":29.9},{"t":13.79,"c":25.7},{"t":13.81,"c":28.8},{"t":13.83,"c":26.8},{"t":13.85,"c":29.7},{"t":13.87,"c":29.0},{"t":13.89,"c":27.3},{"t":13.89,"c":30.4},
{"t":4.35,"c":33.0},{"t":4.62,"c":32.1},{"t":4.90,"c":32.6},{"t":5.12,"c":31.9},{"t":5.35,"c":33.1},{"t":5.58,"c":32.4},{"t":5.80,"c":33.6},{"t":6.03,"c":32.9},{"t":6.12,"c":32.8},{"t":6.25,"c":34.0},{"t":6.39,"c":32.4},{"t":6.55,"c":33.5},{"t":6.70,"c":32.3},{"t":6.85,"c":34.2},{"t":7.05,"c":35.2},{"t":7.20,"c":33.0},{"t":7.35,"c":35.6},{"t":7.43,"c":34.5},{"t":7.65,"c":34.8},{"t":7.88,"c":34.9},{"t":7.93,"c":34.9},{"t":8.04,"c":36.4},{"t":8.16,"c":36.4},{"t":8.27,"c":36.6},{"t":8.45,"c":35.3},{"t":8.66,"c":36.1},{"t":8.68,"c":37.2},{"t":8.95,"c":35.8},{"t":9.20,"c":35.9},{"t":9.40,"c":36.3},{"t":9.61,"c":36.1},{"t":9.75,"c":35.0},{"t":9.89,"c":35.3},{"t":10.00,"c":35.5},{"t":10.35,"c":34.9},{"t":10.62,"c":34.5},{"t":10.80,"c":34.0},{"t":10.96,"c":34.5},{"t":11.25,"c":33.9},{"t":11.58,"c":33.6},{"t":11.85,"c":33.4},{"t":12.20,"c":33.1},{"t":12.45,"c":32.6},{"t":12.85,"c":32.5},{"t":13.09,"c":32.3},{"t":13.25,"c":33.0},{"t":13.40,"c":32.4},{"t":13.60,"c":33.8},{"t":13.66,"c":34.0},{"t":13.71,"c":32.3},{"t":13.84,"c":32.0},
{"t":4.51,"c":26.2},{"t":4.74,"c":25.8},{"t":4.87,"c":22.2},{"t":4.88,"c":24.0},{"t":4.96,"c":23.6},{"t":5.02,"c":24.3},{"t":5.07,"c":25.5},{"t":5.30,"c":24.8},{"t":5.64,"c":24.2},{"t":5.95,"c":25.0},{"t":6.36,"c":25.1},{"t":6.75,"c":25.6},{"t":7.09,"c":26.8},{"t":7.40,"c":26.0},{"t":7.66,"c":27.7},{"t":8.05,"c":26.4},{"t":8.40,"c":26.9},{"t":8.77,"c":26.6},{"t":8.83,"c":28.1},{"t":9.15,"c":27.3},{"t":9.55,"c":26.9},{"t":9.95,"c":26.7},{"t":10.30,"c":26.0},{"t":10.70,"c":25.9},{"t":11.07,"c":26.6},{"t":11.46,"c":26.2},{"t":11.80,"c":25.6},{"t":12.16,"c":24.5},{"t":12.36,"c":25.8},{"t":12.64,"c":25.2},{"t":12.95,"c":24.7},{"t":13.20,"c":25.1},{"t":13.43,"c":25.5},{"t":13.65,"c":24.6},{"t":13.83,"c":24.8},{"t":13.89,"c":24.2},
{"t":5.43,"c":68.1},{"t":5.40,"c":48.5},{"t":5.44,"c":41.9},{"t":5.40,"c":36.7},{"t":6.95,"c":69.0},{"t":6.96,"c":38.1},{"t":4.83,"c":32.9},{"t":10.25,"c":64.6},{"t":8.74,"c":55.9},{"t":12.06,"c":57.0},{"t":12.71,"c":48.6},{"t":13.59,"c":48.0},{"t":8.70,"c":44.4},{"t":9.10,"c":45.2},{"t":10.26,"c":44.2},{"t":8.90,"c":40.1},{"t":10.23,"c":38.9},{"t":13.63,"c":42.1},{"t":12.03,"c":37.9},{"t":12.07,"c":36.1},{"t":12.55,"c":37.4},{"t":12.54,"c":35.2},{"t":13.61,"c":34.2},{"t":4.79,"c":18.8},{"t":4.81,"c":16.5},{"t":4.98,"c":13.0},
{"t":12.61,"c":43.6},{"t":12.60,"c":42.0},{"t":12.64,"c":41.8},{"t":12.68,"c":41.4},{"t":12.70,"c":42.4},{"t":12.62,"c":40.9},{"t":12.66,"c":40.5},{"t":12.72,"c":40.2},{"t":12.65,"c":39.8},{"t":12.70,"c":39.3},{"t":12.74,"c":39.6},{"t":12.68,"c":38.6},{"t":12.77,"c":41.6},{"t":12.78,"c":40.7},{"t":12.64,"c":38.1},{"t":12.72,"c":38.0},{"t":12.55,"c":36.2},{"t":12.57,"c":35.3},{"t":12.53,"c":34.6},{"t":12.60,"c":33.5},{"t":12.80,"c":38.8}
]},
"layer": [
 {
  "mark": {"type": "point", "filled": true, "shape": "circle", "size": 20, "color": "#0A0AC8", "opacity": 1},
  "encoding": {
   "x": {"field": "t", "type": "quantitative",
     "scale": {"domain": [0, 15.6], "range": [-17.84, 446], "nice": false, "zero": false},
     "axis": {"orient": "bottom", "values": [0.6,1.6,2.6,3.6,4.6,5.6,6.6,7.6,8.6,9.6,10.6,11.6,12.6,13.6,14.6,15.6], "labelExpr": "datum.value == 0.6 ? '6:14:00:00' : datum.value == 6.6 ? '6:20:00:00' : datum.value == 12.6 ? '7:02:00:00' : ''", "labelOffset": -17.84, "ticks": true, "tickSize": -5, "domain": false, "labelPadding": 20, "labelFontSize": 19.5, "title": "Universal Time (d:h:m:s)", "titleFontSize": 25, "titleX": 215.5, "titleY": 51, "titleBaseline": "middle", "titleAlign": "center", "titleAnchor": null}},
   "y": {"field": "c", "type": "quantitative",
     "scale": {"domain": [0, 70], "nice": false, "zero": false},
     "axis": {"orient": "left", "values": [0, 10, 20, 30, 40, 50, 60, 70], "ticks": true, "tickSize": -5, "domain": false, "labelPadding": 12, "labelFontSize": 18, "title": "Count-rate\u00a0 (sec\u207b\u00b9)", "titleFontSize": 24, "titleX": -57, "titleY": 127.5, "titleAngle": -90, "titleBaseline": "middle", "titleAlign": "center", "titleAnchor": null}}
  }
 },
 {
  "transform": [{"filter": "false"}],
  "mark": {"type": "rule"},
  "encoding": {
   "x": {"field": "t", "type": "quantitative", "scale": {"domain": [0, 15.6], "range": [-17.84, 446], "nice": false, "zero": false},
     "axis": {"orient": "bottom", "values": [0.6,0.85,1.1,1.35,1.6,1.85,2.1,2.35,2.6,2.85,3.1,3.35,3.6,3.85,4.1,4.35,4.6,4.85,5.1,5.35,5.6,5.85,6.1,6.35,6.6,6.85,7.1,7.35,7.6,7.85,8.1,8.35,8.6,8.85,9.1,9.35,9.6,9.85,10.1,10.35,10.6,10.85,11.1,11.35,11.6,11.85,12.1,12.35,12.6,12.85,13.1,13.35,13.6,13.85,14.1,14.35,14.6,14.85,15.1,15.35,15.6], "labels": false, "domain": false, "ticks": true, "tickSize": -2.5, "title": null}},
   "y": {"field": "c", "type": "quantitative", "scale": {"domain": [0, 70], "nice": false, "zero": false},
     "axis": {"orient": "left", "values": [0,2,4,6,8,10,12,14,16,18,20,22,24,26,28,30,32,34,36,38,40,42,44,46,48,50,52,54,56,58,60,62,64,66,68,70], "labels": false, "domain": false, "ticks": true, "tickSize": -2.5, "title": null}}
  }
 },
 {
  "transform": [{"filter": "false"}],
  "mark": {"type": "rule"},
  "encoding": {
   "x": {"field": "t", "type": "quantitative", "scale": {"domain": [0, 15.6], "range": [-17.84, 446], "nice": false, "zero": false}, "axis": null},
   "y": {"field": "c", "type": "quantitative", "scale": {"domain": [0, 70], "nice": false, "zero": false},
     "axis": {"orient": "right", "values": [0,10,20,30,40,50,60,70], "labels": false, "domain": false, "ticks": true, "tickSize": -5, "title": null}}
  }
 },
 {
  "transform": [{"filter": "false"}],
  "mark": {"type": "rule"},
  "encoding": {
   "x": {"field": "t", "type": "quantitative", "scale": {"domain": [0, 15.6], "range": [-17.84, 446], "nice": false, "zero": false}, "axis": null},
   "y": {"field": "c", "type": "quantitative", "scale": {"domain": [0, 70], "nice": false, "zero": false},
     "axis": {"orient": "right", "values": [0,2,4,6,8,10,12,14,16,18,20,22,24,26,28,30,32,34,36,38,40,42,44,46,48,50,52,54,56,58,60,62,64,66,68,70], "labels": false, "domain": false, "ticks": true, "tickSize": -2.5, "title": null}}
  }
 }
]
}
